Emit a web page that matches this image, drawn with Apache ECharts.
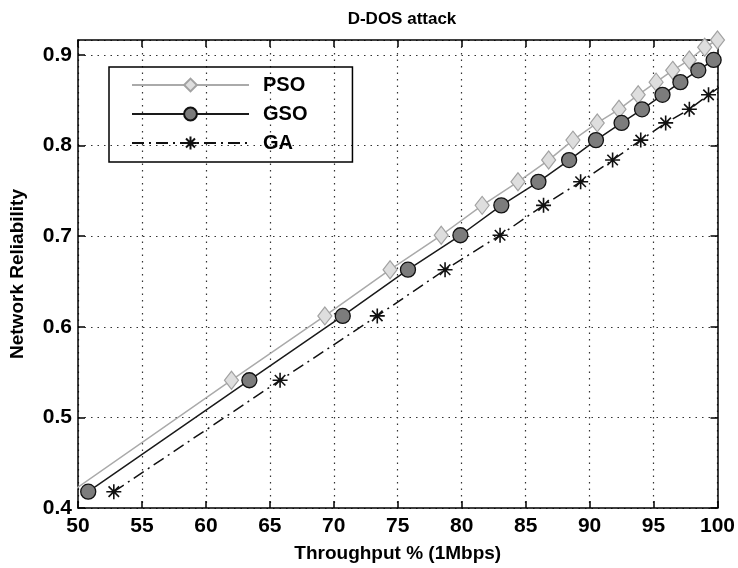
<!DOCTYPE html>
<html>
<head>
<meta charset="utf-8">
<script src="https://cdn.jsdelivr.net/npm/echarts@6/dist/echarts.min.js"></script>
<style>
  html, body { margin: 0; padding: 0; background: #fff; }
  #chart { width: 738px; height: 568px; }
</style>
</head>
<body>
<div id="chart"></div>
<script>
// reliability levels shared by the three curves
const reliability = [0.418, 0.541, 0.612, 0.663, 0.701, 0.734, 0.760, 0.784, 0.806, 0.825, 0.840, 0.856, 0.870, 0.883, 0.8945, 0.9085, 0.9165];
// throughput where each algorithm reaches those levels
const psoX = [49.5, 62.0, 69.3, 74.4, 78.4, 81.6, 84.4, 86.8, 88.7, 90.6, 92.3, 93.8, 95.2, 96.5, 97.8, 99.0, 100.0];
const gsoX = [50.8, 63.4, 70.7, 75.8, 79.9, 83.1, 86.0, 88.4, 90.5, 92.5, 94.1, 95.7, 97.1, 98.5, 99.7, 100.9];
const gaX = [52.8, 65.8, 73.4, 78.7, 83.0, 86.4, 89.3, 91.8, 94.0, 95.95, 97.8, 99.3, 100.7];
const seriesNames = ['PSO', 'GSO', 'GA'];

const font = '"Liberation Sans Narrow", "Arial Narrow", "Liberation Sans", sans-serif';
const asterisk = 'path://M10 0 L10 20 M0 10 L20 10 M3 3 L17 17 M17 3 L3 17';

function pairs(xs) {
  return xs.map((x, i) => [x, reliability[i]]);
}

var myChart = echarts.init(document.getElementById('chart'));

const grid = { left: 76, right: 17, top: 40, bottom: 58 };
const labelStyle = { color: '#000', fontFamily: font, fontWeight: 'bold', fontSize: 21 };

var option = {
  animation: false,
  title: {
    text: 'D-DOS attack',
    left: 397,
    textAlign: 'center',
    top: 6,
    textStyle: { color: '#000', fontFamily: font, fontWeight: 'bold', fontSize: 17 }
  },
  grid: grid,
  legend: {
    orient: 'vertical',
    left: 109,
    top: 67,
    itemWidth: 117,
    itemHeight: 16,
    itemGap: 9,
    borderColor: '#000',
    borderWidth: 1.5,
    padding: [8, 45, 9, 22],
    data: seriesNames,
    textStyle: { color: '#000', fontFamily: font, fontWeight: 'bold', fontSize: 20, padding: [0, 0, 0, 9] }
  },
  xAxis: [
    {
      type: 'value',
      min: 50, max: 100, interval: 5,
      name: 'Throughput % (1Mbps)',
      nameLocation: 'middle',
      nameGap: 36,
      nameTextStyle: { color: '#000', fontFamily: font, fontWeight: 'bold', fontSize: 19 },
      axisLine: { lineStyle: { color: '#000', width: 1.5 } },
      axisTick: { inside: true, length: 7, lineStyle: { color: '#000', width: 1.5 } },
      axisLabel: Object.assign({ margin: 8 }, labelStyle),
      splitLine: { show: true, lineStyle: { color: '#333', type: [1.5, 5], width: 1.2 } }
    },
    {
      type: 'value',
      position: 'top',
      min: 50, max: 100, interval: 5,
      axisLine: { lineStyle: { color: '#000', width: 1.5 } },
      axisTick: { inside: true, length: 7, lineStyle: { color: '#000', width: 1.5 } },
      axisLabel: { show: false },
      splitLine: { show: false }
    }
  ],
  yAxis: [
    {
      type: 'value',
      min: 0.4, max: 0.9165, interval: 0.1,
      name: 'Network Reliability',
      nameLocation: 'middle',
      nameRotate: 90,
      nameGap: 51,
      nameTextStyle: { color: '#000', fontFamily: font, fontWeight: 'bold', fontSize: 19 },
      axisLine: { lineStyle: { color: '#000', width: 1.5 } },
      axisTick: { inside: true, length: 7, lineStyle: { color: '#000', width: 1.5 } },
      axisLabel: Object.assign({ margin: 6, showMaxLabel: false }, labelStyle),
      splitLine: { show: true, lineStyle: { color: '#333', type: [1.5, 5], width: 1.2 } }
    },
    {
      type: 'value',
      position: 'right',
      min: 0.4, max: 0.9165, interval: 0.1,
      axisLine: { lineStyle: { color: '#000', width: 1.5 } },
      axisTick: { inside: true, length: 7, lineStyle: { color: '#000', width: 1.5 } },
      axisLabel: { show: false },
      splitLine: { show: false }
    }
  ],
  series: [
    {
      name: 'PSO',
      type: 'line',
      data: pairs(psoX),
      clip: true,
      symbol: 'diamond',
      symbolSize: [14, 18],
      lineStyle: { color: '#aaaaaa', width: 1.5 },
      itemStyle: { color: '#dedede', borderColor: '#a2a2a2', borderWidth: 1.2 },
      z: 3
    },
    {
      name: 'GSO',
      type: 'line',
      data: pairs(gsoX),
      clip: true,
      symbol: 'circle',
      symbolSize: 15,
      lineStyle: { color: '#1a1a1a', width: 1.5 },
      itemStyle: { color: '#7c7c7c', borderColor: '#111', borderWidth: 1.3 },
      z: 4
    },
    {
      name: 'GA',
      type: 'line',
      data: pairs(gaX),
      clip: true,
      symbol: asterisk,
      symbolSize: 15,
      lineStyle: { color: '#111', width: 1.5, type: [12, 5, 2, 5] },
      itemStyle: { color: '#111', borderColor: '#111', borderWidth: 1.6 },
      z: 5
    }
  ]
};

myChart.setOption(option);
window.onresize = myChart.resize;
</script>
</body>
</html>
